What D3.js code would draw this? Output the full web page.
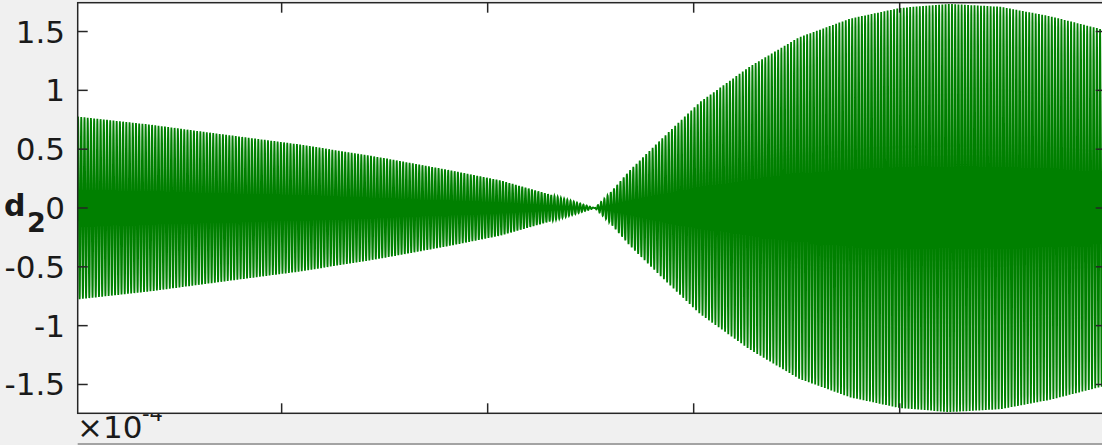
<!DOCTYPE html>
<html>
<head>
<meta charset="utf-8">
<script src="https://cdn.jsdelivr.net/npm/d3@7"></script>
<style>
  body { margin: 0; background: #f0f0f0; overflow: hidden; }
  text { font-family: "DejaVu Sans", sans-serif; fill: #1a1a1a; }
</style>
</head>
<body>
<script>
// envelope of d2, time in units of 1e-4
var env_time = [0, 0.36, 0.70, 1.09, 1.48, 1.82, 2.06, 2.25, 2.40, 2.52, 2.59, 2.69, 2.84, 3.03, 3.27, 3.51, 3.76, 4.00, 4.24, 4.49, 4.73, 5.00];
var env_amp  = [-0.78, -0.71, -0.63, -0.54, -0.43, -0.32, -0.235, -0.14, -0.065, 0, 0.12, 0.32, 0.58, 0.90, 1.20, 1.45, 1.61, 1.70, 1.735, 1.71, 1.63, 1.51];
// carrier oscillation, cycles per 1e-4 (about 3.2 px per cycle in the picture)
var cycles_per_unit = 64;

var y_ticks = [-1.5, -1, -0.5, 0, 0.5, 1, 1.5];
var y_tick_labels = ["-1.5", "-1", "-0.5", "0", "0.5", "1", "1.5"];
var x_ticks = [1, 2, 3, 4, 5];
var x_domain = [0.01, 5.0];
var y_domain = [-1.745, 1.745];

var W = 1102, H = 445;
var box = {left: 77.7, top: 2.7, right: 1105.7, bottom: 413.3};

var svg = d3.select("body").append("svg")
            .attr("width", W)
            .attr("height", H);

// grey figure background
svg.append("rect").attr("x", 0).attr("y", 0).attr("width", W).attr("height", H)
   .style("fill", "#f0f0f0");

// exponent sits partly under the axes, like in the original
svg.append("text").attr("x", 77).attr("y", 438)
   .style("font-size", "31px").text("\u00d710");
svg.append("text").attr("x", 142).attr("y", 421)
   .style("font-size", "21px").text("-4");

var x = d3.scaleLinear().domain(x_domain).range([box.left, box.right]);
var y = d3.scaleLinear().domain(y_domain).range([box.bottom, box.top]);
var env = d3.scaleLinear().domain(env_time).range(env_amp);

// white axes area
svg.append("rect").attr("x", box.left).attr("y", box.top)
   .attr("width", box.right - box.left).attr("height", box.bottom - box.top)
   .style("fill", "white");

svg.append("clipPath").attr("id", "clip")
   .append("rect").attr("x", box.left).attr("y", box.top)
   .attr("width", box.right - box.left).attr("height", box.bottom - box.top);

// sample the signal: envelope times carrier
var n = Math.round((x_domain[1] - x_domain[0]) * cycles_per_unit * 20);
var pts = d3.range(n + 1).map(function(i) {
  var t = x_domain[0] + (x_domain[1] - x_domain[0]) * i / n;
  return [t, env(t) * Math.sin(2 * Math.PI * cycles_per_unit * t)];
});

var line = d3.line().x(function(d) { return x(d[0]); }).y(function(d) { return y(d[1]); });

svg.append("path").datum(pts)
   .attr("clip-path", "url(#clip)")
   .attr("d", line)
   .style("fill", "none")
   .style("stroke", "#008000")
   .style("stroke-width", 1.8);

// axes box and ticks (pointing inward on all four sides)
var ax = svg.append("g").style("stroke", "#262626").style("stroke-width", 1.5).style("fill", "none");
ax.append("rect").attr("x", box.left).attr("y", box.top)
  .attr("width", box.right - box.left).attr("height", box.bottom - box.top);

var tl = 10;
x_ticks.forEach(function(t) {
  ax.append("line").attr("x1", x(t)).attr("x2", x(t)).attr("y1", box.bottom).attr("y2", box.bottom - tl);
  ax.append("line").attr("x1", x(t)).attr("x2", x(t)).attr("y1", box.top).attr("y2", box.top + tl);
});
y_ticks.forEach(function(v) {
  ax.append("line").attr("x1", box.left).attr("x2", box.left + tl).attr("y1", y(v)).attr("y2", y(v));
  ax.append("line").attr("x1", box.right).attr("x2", box.right - tl).attr("y1", y(v)).attr("y2", y(v));
});

// y tick labels
svg.selectAll(".ylab").data(y_ticks).enter().append("text")
   .attr("class", "ylab")
   .attr("x", 65)
   .attr("y", function(d) { return y(d) + 11; })
   .attr("text-anchor", "end")
   .style("font-size", "31px")
   .text(function(d, i) { return y_tick_labels[i]; });

// y label d_2
svg.append("text").attr("x", 4).attr("y", 216)
   .style("font-size", "30px").style("font-weight", "bold").text("d");
svg.append("text").attr("x", 27).attr("y", 232)
   .style("font-size", "27px").style("font-weight", "bold").text("2");

// top edge of the next axes below
svg.append("line").attr("x1", box.left).attr("x2", W).attr("y1", 444).attr("y2", 444)
   .style("stroke", "#8a8a8a").style("stroke-width", 1.5);
</script>
</body>
</html>
